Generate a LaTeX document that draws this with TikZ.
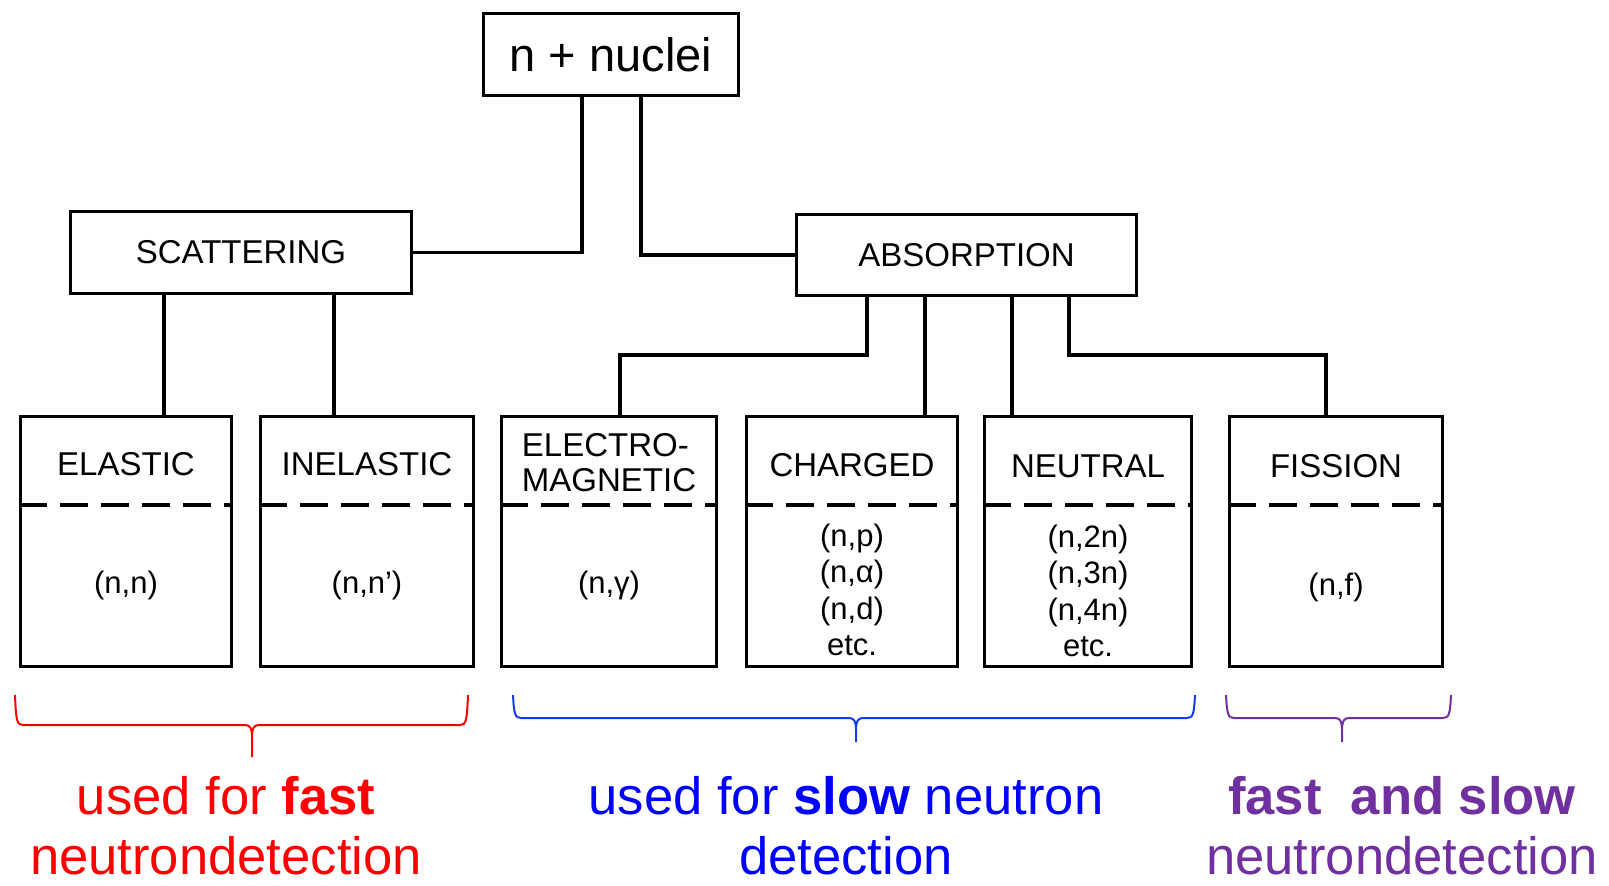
\documentclass[tikz,border=0pt]{standalone}
\usepackage{fontspec}
\setmainfont{Liberation Sans}
\definecolor{purp}{RGB}{112,48,160}
\definecolor{bbrace}{RGB}{20,60,230}
\newcommand{\drawbrace}[7]{%
  \draw[bracel,#7] (#1,#4) .. controls (#1+1,#5-4) and (#1+2,#5) .. (#1+8,#5)
     -- (#3-7,#5) .. controls (#3-2,#5) and (#3,#5+3) .. (#3,#5+12) -- (#3,#6)
     (#3,#5+12) .. controls (#3,#5+3) and (#3+2,#5) .. (#3+7,#5)
     -- (#2-8,#5) .. controls (#2-2,#5) and (#2-1,#5-4) .. (#2,#4);}
\begin{document}
\begin{tikzpicture}[x=0.5pt,y=-0.5pt,
  box/.style={draw=black,line width=1.7pt,inner sep=0pt},
  conn/.style={line width=1.7pt},
  sepline/.style={line width=2pt,dash pattern=on 14pt off 6.5pt},
  hdr/.style={font=\fontsize{16.5}{17.5}\selectfont,inner sep=0pt,align=left},
  rx/.style={font=\fontsize{15.5}{18.3}\selectfont,inner sep=0pt,align=center},
  note/.style={font=\fontsize{26.3}{29.8}\selectfont,inner sep=0pt,align=center,anchor=north},
  bracel/.style={line width=1pt}]
\useasboundingbox (0,0) rectangle (1609,885);

% top boxes
\node[box,minimum width=127.5pt,minimum height=41pt,font=\fontsize{23.5}{26}\selectfont] (nuc) at (611,54.5) {n + nuclei};
\node[box,minimum width=170.5pt,minimum height=41pt,font=\fontsize{16.5}{18}\selectfont] (scat) at (241,252.5) {SCATTERING};
\node[box,minimum width=170pt,minimum height=40.5pt,font=\fontsize{16.5}{18}\selectfont] (abs) at (966.5,255) {ABSORPTION};

% bottom boxes
\node[box,minimum width=105.5pt,minimum height=125pt] (ela) at (126,541.5) {};
\node[box,minimum width=106.5pt,minimum height=125pt] (inel) at (367,541.5) {};
\node[box,minimum width=107.5pt,minimum height=125pt] (elec) at (609,541.5) {};
\node[box,minimum width=105.5pt,minimum height=125pt] (chg) at (852,541.5) {};
\node[box,minimum width=103.5pt,minimum height=125pt] (neu) at (1088,541.5) {};
\node[box,minimum width=106.5pt,minimum height=125pt] (fis) at (1336,541.5) {};

% dashed separators
\foreach \b in {ela,inel,elec,chg,neu,fis}
  \draw[sepline] (\b.west |- 0,505) -- (\b.east |- 0,505);

% headers
\node[hdr] (elaH) at (126,464) {ELASTIC};
\node[hdr] (inelH) at (367,464) {INELASTIC};
\node[hdr] (elecH) at (609,462.5) {ELECTRO-\\MAGNETIC};
\node[hdr] (chgH) at (852,465) {CHARGED};
\node[hdr] (neuH) at (1088,466) {NEUTRAL};
\node[hdr] (fisH) at (1336,466) {FISSION};

% reactions
\node[rx] (elaR) at (126,585) {(n,n)};
\node[rx] (inelR) at (367,585) {(n,n')};
\node[rx] (elecR) at (609,585) {(n,γ)};
\node[rx] (chgR) at (852,590) {(n,p)\\(n,α)\\(n,d)\\etc.};
\node[rx] (neuR) at (1088,591) {(n,2n)\\(n,3n)\\(n,4n)\\etc.};
\node[rx] (fisR) at (1336,587) {(n,f)};

% connectors
\draw[conn] (582,0 |- nuc.south) |- (scat.east);
\draw[conn] (641,0 |- nuc.south) |- (abs.west);
\draw[conn] (164,0 |- scat.south) -- (164,0 |- ela.north);
\draw[conn] (334,0 |- scat.south) -- (334,0 |- inel.north);
\draw[conn] (867,0 |- abs.south) -- (867,355) -- (620,355) -- (620,0 |- elec.north);
\draw[conn] (925,0 |- abs.south) -- (925,0 |- chg.north);
\draw[conn] (1012,0 |- abs.south) -- (1012,0 |- neu.north);
\draw[conn] (1069,0 |- abs.south) -- (1069,355) -- (1326,355) -- (1326,0 |- fis.north);

% braces
\drawbrace{15}{468}{252}{695}{725}{757}{red}
\drawbrace{513}{1195}{856}{695}{718}{742}{bbrace}
\drawbrace{1226}{1451}{1342}{695}{718}{742}{purp}

% notes
\node[note,text=red] (n1) at (226,776) {used for \textbf{fast}\\neutrondetection};
\node[note,text=blue] (n2) at (846,776) {used for \textbf{slow} neutron\\detection};
\node[note,text=purp] (n3) at (1402,776) {\textbf{fast\ \ and slow}\\neutrondetection};
\end{tikzpicture}
\end{document}
